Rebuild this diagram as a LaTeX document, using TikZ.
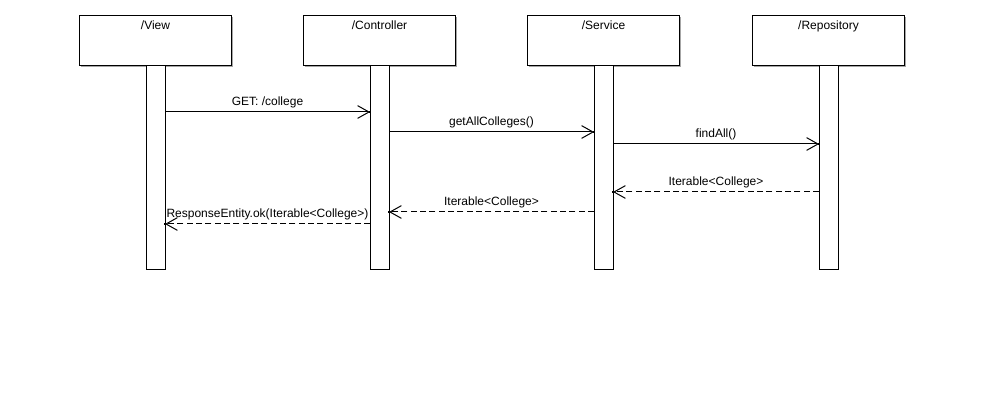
\documentclass[tikz,border=0pt]{standalone}
\usepackage{fontspec}
\setmainfont{Liberation Sans}
\usetikzlibrary{arrows.meta}
\begin{document}
\begin{tikzpicture}[x=0.75pt,y=-0.75pt,
  font=\fontsize{9pt}{10pt}\selectfont,
  actor/.style={draw=black,line width=0.75pt,fill=white,minimum width=114pt,minimum height=37.5pt,inner sep=0pt,outer sep=0pt},
  bar/.style={draw=black,line width=0.75pt,fill=white,minimum width=14.25pt,minimum height=153pt,inner sep=0pt,outer sep=0pt},
  shadow/.style={draw=black!35,line width=0.75pt},
  msg/.style={line width=0.75pt,-{Straight Barb[length=8.5pt,width=9.5pt,line width=0.75pt]}},
  ret/.style={msg,dash pattern=on 4.5pt off 2.5pt},
  lbl/.style={inner sep=0pt,anchor=base},
  tip/.style={fill=black,minimum size=1.5pt,inner sep=0pt,outer sep=0pt}]
\useasboundingbox[fill=white] (0,0) rectangle (984,416);
% lifelines
\foreach \n/\x/\t in {v/155.5/{/View},c/379.5/{/Controller},s/603.5/{/Service},r/828.5/{/Repository}}{
  \draw[shadow] (\x-75,67) -- (\x+77,67) -- (\x+77,17);
  \node[actor] (\n a) at (\x,41) {};
  \node[anchor=north,inner sep=0pt] (\n t) at ([yshift=-3.5pt]\n a.north) {\t};
  \node[bar] (\n b) at (\x,168) {};
}
% messages
\draw[msg] (vb.east |- 0,112) -- coordinate (m1) (cb.west |- 0,112);
\node[lbl] (l1) at ([yshift=4.5pt]m1) {GET: /college};
\draw[msg] (cb.east |- 0,132) -- coordinate (m2) (sb.west |- 0,132);
\node[lbl] (l2) at ([yshift=4.5pt]m2) {getAllColleges()};
\draw[msg] (sb.east |- 0,144) -- coordinate (m3) (rb.west |- 0,144);
\node[lbl] (l3) at ([yshift=4.5pt]m3) {findAll()};
\draw[ret] (rb.west |- 0,192) -- coordinate (m4) (sb.east |- 0,192);
\node[lbl] (l4) at ([yshift=4.5pt]m4) {Iterable<College>};
\draw[ret] (sb.west |- 0,212) -- coordinate (m5) (cb.east |- 0,212);
\node[lbl] (l5) at ([yshift=4.5pt]m5) {Iterable<College>};
\draw[ret] (cb.west |- 0,224) -- coordinate (m6) (vb.east |- 0,224);
\node[lbl] (l6) at ([yshift=5pt]m6) {ResponseEntity.ok(Iterable<College>)};
% tip dots
\node[tip] at (cb.west |- 0,112) {};
\node[tip] at (sb.west |- 0,132) {};
\node[tip] at (rb.west |- 0,144) {};
\node[tip] at (sb.east |- 0,192) {};
\node[tip] at (cb.east |- 0,212) {};
\node[tip] at (vb.east |- 0,224) {};
\end{tikzpicture}
\end{document}
